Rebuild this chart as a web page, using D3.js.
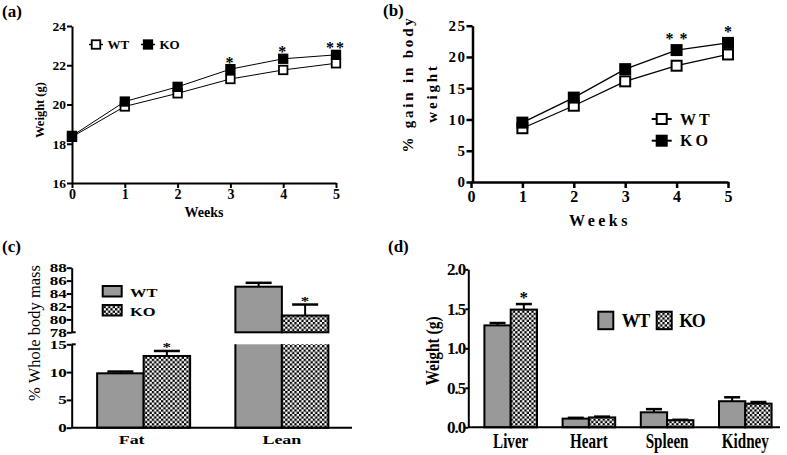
<!DOCTYPE html>
<html><head><meta charset="utf-8">
<script src="https://cdn.jsdelivr.net/npm/d3@7"></script>
<style>body{margin:0;background:#fff} svg{display:block}</style>
</head><body><svg id="c" width="787" height="455"></svg>
<script>
// ---------------- data ----------------
const series = ["WT", "KO"];

const weeksA = [0, 1, 2, 3, 4, 5];
const wtA = [18.35, 19.9, 20.57, 21.3, 21.76, 22.1];
const koA = [18.4, 20.15, 20.9, 21.8, 22.33, 22.53];
const sigA = ["", "", "", "*", "*", "**"];
const yTicksA = [16, 18, 20, 22, 24];

const weeksB = [1, 2, 3, 4, 5];
const wtB = [8.6, 12.2, 16.1, 18.6, 20.4];
const koB = [9.5, 13.5, 18.05, 21.1, 22.25];
const sigB = ["", "", "", "**", "*"];
const xTicksB = [0, 1, 2, 3, 4, 5];
const yTicksB = [0, 5, 10, 15, 20, 25];

const compCats = ["Fat", "Lean"];
const compWT = [9.78, 85.06];
const compWTerr = [0.32, 0.6];
const compKO = [12.9, 80.6];
const compKOerr = [0.9, 1.7];
const compSig = ["*", "*"];
const compTicksLow = [0, 5, 10, 15];
const compTicksHigh = [78, 80, 82, 84, 86, 88];

const organs = ["Liver", "Heart", "Spleen", "Kidney"];
const orgWT = [1.29, 0.11, 0.19, 0.33];
const orgWTerr = [0.03, 0.01, 0.04, 0.05];
const orgKO = [1.49, 0.125, 0.09, 0.30];
const orgKOerr = [0.07, 0.01, 0.005, 0.02];
const orgSig = ["*", "", "", ""];
const orgTicks = [0, 0.5, 1.0, 1.5, 2.0];

// ---------------- helpers ----------------
const svg = d3.select("#c");
const F = "'Liberation Serif','Times New Roman',serif";
const GRAY = "#999999";

const defs = svg.append("defs");
const pat = defs.append("pattern").attr("id", "chk").attr("patternUnits", "userSpaceOnUse")
  .attr("width", 4.6).attr("height", 4.6);
pat.append("rect").attr("width", 4.6).attr("height", 4.6).attr("fill", "#fff");
pat.append("rect").attr("width", 2.3).attr("height", 2.3).attr("fill", "#000");
pat.append("rect").attr("x", 2.3).attr("y", 2.3).attr("width", 2.3).attr("height", 2.3).attr("fill", "#000");

function T(g, s, x, y, o = {}) {
  const t = g.append("text").text(s)
    .attr("font-family", F).attr("font-weight", o.w || "bold").attr("font-size", o.fs || 14)
    .attr("text-anchor", o.a || "start").attr("fill", "#000")
    .attr("transform", `translate(${x},${y}) rotate(${o.r || 0}) scale(${o.sx || 1},${o.sy || 1})`);
  if (o.ls !== undefined) t.attr("letter-spacing", o.ls);
  return t;
}
function styleAxis(g, o) {
  g.select(".domain").attr("stroke", "#000").attr("stroke-width", o.sw);
  g.selectAll(".tick line").attr("stroke", "#000").attr("stroke-width", o.sw);
  const tx = g.selectAll(".tick text").attr("font-family", F).attr("font-weight", "bold")
    .attr("font-size", o.fs).attr("fill", "#000");
  if (o.ls !== undefined) tx.attr("letter-spacing", o.ls);
  if (o.tr) tx.attr("transform", o.tr);
}
function square(g, x, y, size, filled, sw) {
  g.append("rect").attr("x", x - size / 2).attr("y", y - size / 2).attr("width", size).attr("height", size)
    .attr("fill", filled ? "#000" : "#fff").attr("stroke", "#000").attr("stroke-width", sw);
}

// ---------------- panel (a) ----------------
{
  const g = svg.append("g");
  const x = d3.scaleLinear().domain([0, 5]).range([72, 336]);
  const y = d3.scaleLinear().domain([16, 24]).range([183, 26]);
  g.append("g").attr("transform", "translate(0,183)")
    .call(d3.axisBottom(x).tickValues(weeksA).tickSize(5).tickSizeOuter(0).tickPadding(1).tickFormat(d3.format("d")))
    .call(styleAxis, { sw: 2, fs: 14 });
  g.append("g").attr("transform", "translate(72,0)")
    .call(d3.axisLeft(y).tickValues(yTicksA).tickSize(5).tickSizeOuter(0).tickPadding(1))
    .call(styleAxis, { sw: 2, fs: 13.5 });

  const line = d3.line().x((d, i) => x(weeksA[i])).y(d => y(d));
  g.append("path").attr("d", line(wtA)).attr("fill", "none").attr("stroke", "#000").attr("stroke-width", 1);
  g.append("path").attr("d", line(koA)).attr("fill", "none").attr("stroke", "#000").attr("stroke-width", 1);
  wtA.forEach((v, i) => square(g, x(weeksA[i]), y(v), 8.5, false, 1.8));
  koA.forEach((v, i) => square(g, x(weeksA[i]), y(v), 8.5, true, 1.8));
  sigA.forEach((s, i) => { if (s) T(g, s, x(weeksA[i]), y(koA[i]) - 9 + 7.5, { fs: 16, a: "middle", ls: 2 }); });

  // legend
  const lx = [96, 148];
  series.forEach((s, i) => {
    g.append("line").attr("x1", lx[i] - 7).attr("x2", lx[i] + 7).attr("y1", 44.5).attr("y2", 44.5)
      .attr("stroke", "#000").attr("stroke-width", 1.5);
    square(g, lx[i], 44.5, 8.5, i === 1, 1.8);
    T(g, s, lx[i] + 11.5, 49, { fs: 13 });
  });

  T(g, "Weight (g)", 44, 110, { fs: 12.5, r: -90, a: "middle" });
  T(g, "Weeks", 204, 217, { fs: 14, a: "middle" });
  T(g, "(a)", 2, 17, { fs: 17 });
}

// ---------------- panel (b) ----------------
{
  const g = svg.append("g");
  const x = d3.scaleLinear().domain([0, 5]).range([471, 728]);
  const y = d3.scaleLinear().domain([0, 25]).range([182, 25.7]);
  g.append("g").attr("transform", "translate(0,182)")
    .call(d3.axisBottom(x).tickValues(xTicksB).tickSize(6).tickSizeOuter(0).tickPadding(3).tickFormat(d3.format("d")))
    .call(styleAxis, { sw: 2.5, fs: 16 });
  g.append("g").attr("transform", "translate(472.5,0)")
    .call(d3.axisLeft(y).tickValues(yTicksB).tickSize(6).tickSizeOuter(0).tickPadding(0))
    .call(styleAxis, { sw: 2.5, fs: 15, ls: 1.5 });

  const line = d3.line().x((d, i) => x(weeksB[i])).y(d => y(d));
  g.append("path").attr("d", line(wtB)).attr("fill", "none").attr("stroke", "#000").attr("stroke-width", 1.3);
  g.append("path").attr("d", line(koB)).attr("fill", "none").attr("stroke", "#000").attr("stroke-width", 1.3);
  wtB.forEach((v, i) => square(g, x(weeksB[i]), y(v), 10, false, 2));
  koB.forEach((v, i) => square(g, x(weeksB[i]), y(v), 10, true, 2));
  sigB.forEach((s, i) => { if (s) T(g, s, x(weeksB[i]) + (s.length > 1 ? 3 : 0), y(koB[i]) - 13.5 + 7.5, { fs: 16, a: "middle", ls: s.length > 1 ? 6 : 0 }); });

  const ly = [119, 140.7];
  series.forEach((s, i) => {
    g.append("line").attr("x1", 651.7).attr("x2", 671.7).attr("y1", ly[i]).attr("y2", ly[i])
      .attr("stroke", "#000").attr("stroke-width", 2);
    square(g, 661.7, ly[i], 10, i === 1, 2);
    T(g, s, 680, ly[i] + 5.5, { fs: 16, ls: 3 });
  });

  T(g, "% gain in body", 413, 84, { fs: 15, r: -90, a: "middle", ls: 2.8 });
  T(g, "weight", 437, 93, { fs: 15, r: -90, a: "middle", ls: 2.8 });
  T(g, "Weeks", 600, 226, { fs: 16, a: "middle", ls: 3.5 });
  T(g, "(b)", 383, 16, { fs: 17 });
}

// ---------------- panel (c) ----------------
{
  const g = svg.append("g");
  const x = d3.scalePoint().domain(compCats).range([74.5, 351]).padding(0.5);
  const yL = d3.scaleLinear().domain([0, 15]).range([427.7, 344.3]);
  const yH = d3.scaleLinear().domain([78, 88]).range([332.3, 267.7]);
  const bw = 46.5;
  const AX = 71.7;

  const vals = [compWT, compKO], errs = [compWTerr, compKOerr];
  compCats.forEach((c, i) => {
    series.forEach((s, k) => {
      const v = vals[k][i], e = errs[k][i];
      const x0 = k === 0 ? x(c) - bw : x(c);
      const fill = k === 0 ? GRAY : "url(#chk)";
      let top;
      if (v <= 15) {
        top = yL(v);
        g.append("rect").attr("x", x0).attr("y", top).attr("width", bw).attr("height", yL(0) - top)
          .attr("fill", fill).attr("stroke", "#000").attr("stroke-width", 2);
        var yE = yL(v + e);
      } else {
        g.append("rect").attr("x", x0).attr("y", yL(15)).attr("width", bw).attr("height", yL(0) - yL(15))
          .attr("fill", fill).attr("stroke", "none");
        g.append("path").attr("d", `M${x0},${yL(15)}V${yL(0)}H${x0 + bw}V${yL(15)}`)
          .attr("fill", "none").attr("stroke", "#000").attr("stroke-width", 2);
        top = yH(v);
        g.append("rect").attr("x", x0).attr("y", top).attr("width", bw).attr("height", yH(78) - top)
          .attr("fill", fill).attr("stroke", "#000").attr("stroke-width", 2);
        var yE = yH(v + e);
      }
      const cxm = x0 + bw / 2;
      g.append("line").attr("x1", cxm).attr("x2", cxm).attr("y1", top).attr("y2", yE).attr("stroke", "#000").attr("stroke-width", 2);
      g.append("line").attr("x1", cxm - 13).attr("x2", cxm + 13).attr("y1", yE).attr("y2", yE).attr("stroke", "#000").attr("stroke-width", 2.5);
      if (k === 1 && compSig[i]) T(g, compSig[i], cxm, yE - 5.5 + 5.8, { fs: 17, a: "middle", sy: 0.72 });
    });
  });

  g.append("g").attr("transform", `translate(${AX},0)`)
    .call(d3.axisLeft(yL).tickValues(compTicksLow).tickSize(5).tickSizeOuter(0).tickPadding(0))
    .call(styleAxis, { sw: 2, fs: 17, tr: "scale(1,0.72)" });
  g.append("g").attr("transform", `translate(${AX},0)`)
    .call(d3.axisLeft(yH).tickValues(compTicksHigh).tickSize(5).tickSizeOuter(0).tickPadding(0))
    .call(styleAxis, { sw: 2, fs: 17, tr: "scale(1,0.72)" });
  [yL(15), yH(78)].forEach(yy => g.append("line").attr("x1", AX).attr("x2", AX + 4).attr("y1", yy).attr("y2", yy)
    .attr("stroke", "#000").attr("stroke-width", 2));
  g.append("line").attr("x1", AX).attr("x2", 352).attr("y1", yL(0)).attr("y2", yL(0)).attr("stroke", "#000").attr("stroke-width", 2);

  compCats.forEach(c => T(g, c, x(c) + (c === "Fat" ? -12 : 0), 443.5, { fs: 18, a: "middle", sy: 0.72 }));

  // legend
  const lyc = [286, 305];
  series.forEach((s, k) => {
    g.append("rect").attr("x", 102.7).attr("y", lyc[k]).attr("width", 19).attr("height", 10.5)
      .attr("fill", k === 0 ? GRAY : "url(#chk)").attr("stroke", "#000").attr("stroke-width", 2);
    T(g, s, 130, lyc[k] + 10.5, { fs: 16.5, sy: 0.75 });
  });

  T(g, "% Whole body mass", 40, 333, { fs: 16.5, r: -90, a: "middle", w: "normal" });
  T(g, "(c)", 2, 252, { fs: 17 });
}

// ---------------- panel (d) ----------------
{
  const g = svg.append("g");
  const x = d3.scalePoint().domain(organs).range([471.6, 784.4]).padding(0.5);
  const y = d3.scaleLinear().domain([0, 2]).range([427.3, 269.3]);
  const bw = 26.3;
  const AX = 468.3;

  const vals = [orgWT, orgKO], errs = [orgWTerr, orgKOerr];
  organs.forEach((c, i) => {
    series.forEach((s, k) => {
      const v = vals[k][i], e = errs[k][i];
      const x0 = k === 0 ? x(c) - bw : x(c);
      g.append("rect").attr("x", x0).attr("y", y(v)).attr("width", bw).attr("height", y(0) - y(v))
        .attr("fill", k === 0 ? GRAY : "url(#chk)").attr("stroke", "#000").attr("stroke-width", 2);
      const cxm = x0 + bw / 2, yE = y(v + e);
      g.append("line").attr("x1", cxm).attr("x2", cxm).attr("y1", y(v)).attr("y2", yE).attr("stroke", "#000").attr("stroke-width", 2);
      g.append("line").attr("x1", cxm - 8).attr("x2", cxm + 8).attr("y1", yE).attr("y2", yE).attr("stroke", "#000").attr("stroke-width", 2.5);
      if (k === 1 && orgSig[i]) T(g, orgSig[i], cxm, yE - 9 + 8, { fs: 17, a: "middle" });
    });
  });

  g.append("g").attr("transform", `translate(${AX},0)`)
    .call(d3.axisLeft(y).tickValues(orgTicks).tickSize(3).tickSizeOuter(0).tickPadding(0).tickFormat(d3.format(".1f")))
    .call(styleAxis, { sw: 2, fs: 17, ls: -1 });
  g.append("line").attr("x1", AX).attr("x2", 780).attr("y1", y(0)).attr("y2", y(0)).attr("stroke", "#000").attr("stroke-width", 2);

  organs.forEach(c => T(g, c, x(c), 448, { fs: 21, a: "middle", sx: 0.72 }));

  const lxd = [598.3, 656.7], ltx = [621.7, 679.3];
  series.forEach((s, k) => {
    g.append("rect").attr("x", lxd[k]).attr("y", 311.7).attr("width", 15).attr("height", 17.5)
      .attr("fill", k === 0 ? GRAY : "url(#chk)").attr("stroke", "#000").attr("stroke-width", 2);
    T(g, s, ltx[k], 326.7, { fs: 18, ls: -1.5 });
  });

  T(g, "Weight (g)", 439, 351, { fs: 18, r: -90, a: "middle", sx: 0.86 });
  T(g, "(d)", 388, 252, { fs: 17 });
}
</script>
</body></html>
